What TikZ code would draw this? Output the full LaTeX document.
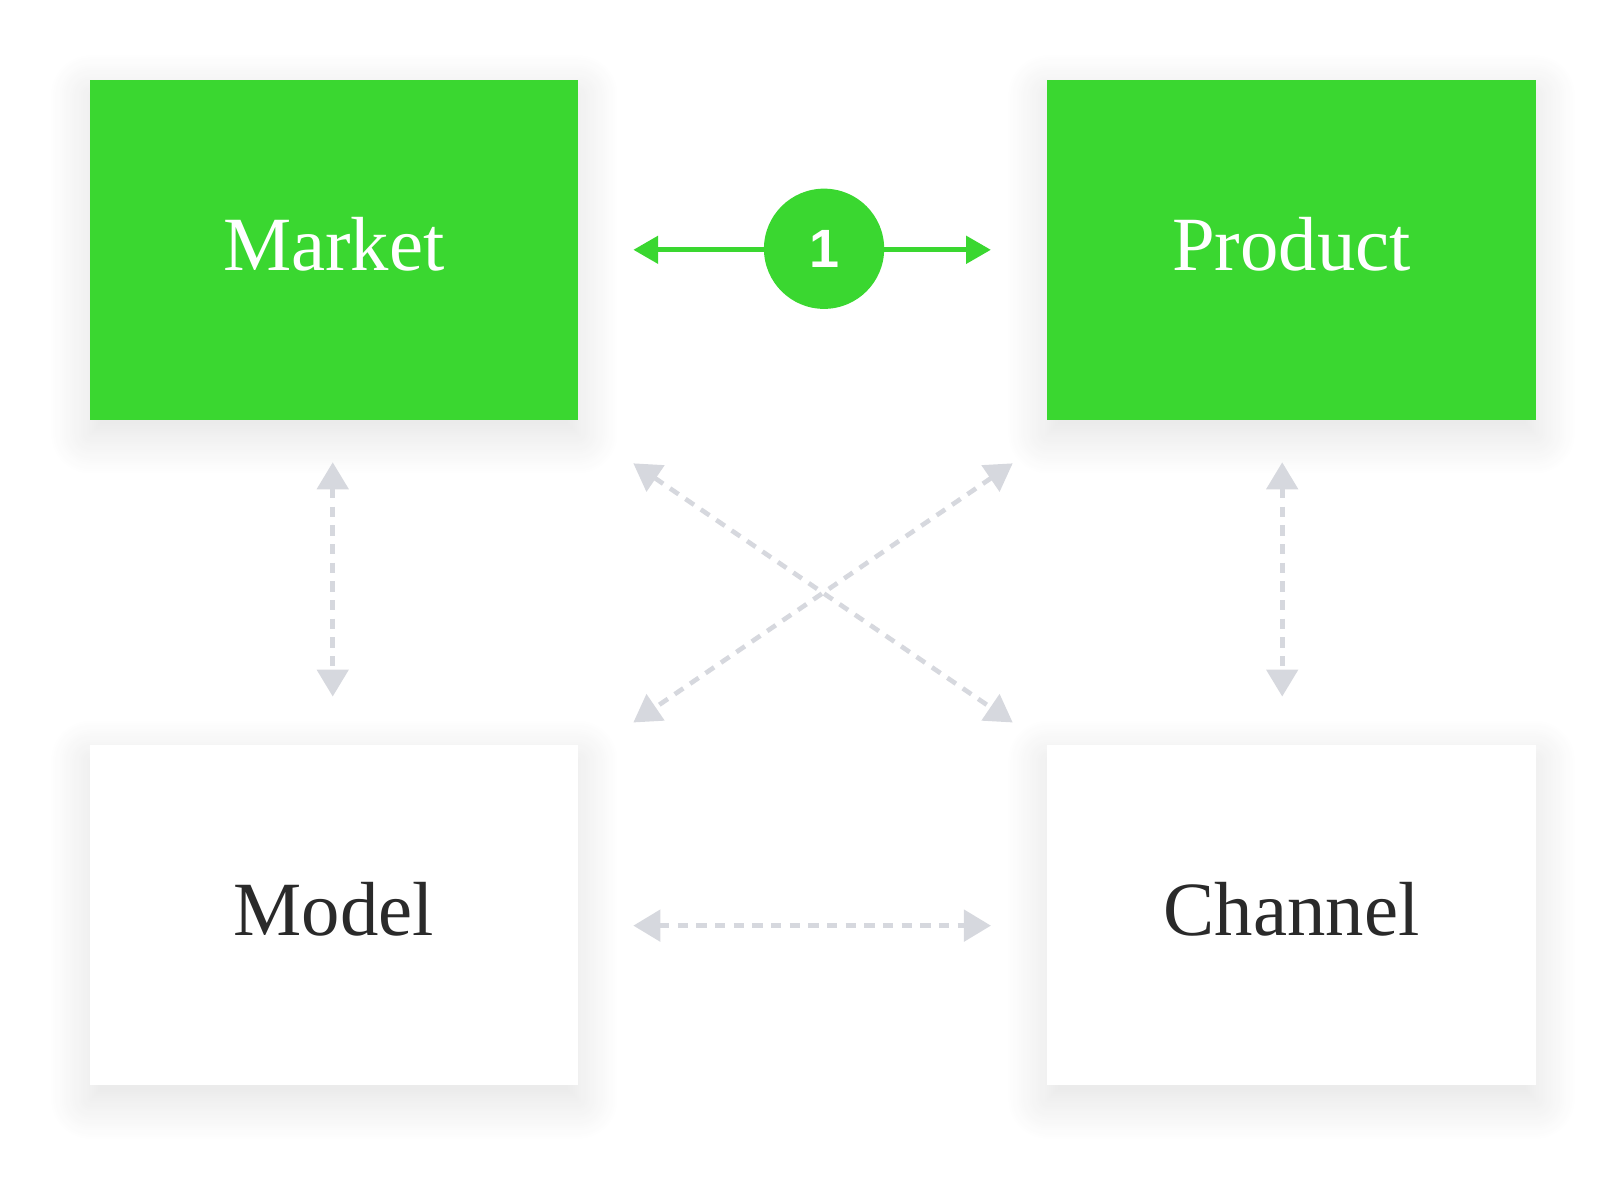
\documentclass[tikz,border=0pt]{standalone}
\usepackage{fontspec}
\setmainfont{Liberation Serif}
\newfontfamily\numfont{Liberation Sans}
\usetikzlibrary{arrows.meta,shadows.blur}
\definecolor{grn}{HTML}{3AD730}
\definecolor{gry}{HTML}{D6D8DE}
\definecolor{txt}{HTML}{2A2A2A}
\begin{document}
\begin{tikzpicture}[x=1pt,y=-1pt,
  box/.style={minimum width=471pt,minimum height=328pt,inner sep=0pt,
    blur shadow={shadow xshift=0pt,shadow yshift=-14pt,shadow blur radius=40pt,shadow opacity=12,shadow blur steps=20},
    font=\fontsize{74}{76}\selectfont},
  lbl/.style={font=\fontsize{74}{76}\selectfont},
  gbox/.style={box,fill=grn,text=white},
  wbox/.style={box,fill=white,text=txt},
  dot/.style={circle,fill=grn,minimum size=116pt,inner sep=0pt,text=white,font=\numfont\bfseries\fontsize{52}{52}\selectfont},
  garr/.style={grn,line width=5pt,{Triangle[width=26pt,length=24pt]}-{Triangle[width=26pt,length=24pt]}},
  darr/.style={gry,line width=4.5pt,dash pattern=on 10pt off 8pt,{Triangle[width=30pt,length=26pt]}-{Triangle[width=30pt,length=26pt]}}]
\useasboundingbox (0,0) rectangle (1560,1145);
\node[gbox] (market) at (322.5,241) {};
\node[gbox] (product) at (1246,241) {};
\node[wbox] (model) at (322.5,883) {};
\node[wbox] (channel) at (1246,883) {};
\node[lbl,text=white] at (322,236) {Market};
\node[lbl,text=white] at (1246,236) {Product};
\node[lbl,text=txt] at (322,877) {Model};
\node[lbl,text=txt] at (1246,877) {Channel};
\coordinate (a1) at (611,241); \coordinate (a2) at (956,241);
\draw[garr] (a1) -- (a2);
\node[dot] (one) at (795,240) {1};
\coordinate (v1a) at (321,446); \coordinate (v1b) at (321,672);
\coordinate (v2a) at (1237,446); \coordinate (v2b) at (1237,672);
\coordinate (d1a) at (611,447); \coordinate (d1b) at (977,697);
\coordinate (d2a) at (977,447); \coordinate (d2b) at (611,697);
\coordinate (h1) at (611,893); \coordinate (h2) at (956,893);
\draw[darr] (v1a) -- (v1b);
\draw[darr] (v2a) -- (v2b);
\draw[darr] (d1a) -- (d1b);
\draw[darr] (d2a) -- (d2b);
\draw[darr] (h1) -- (h2);
\end{tikzpicture}
\end{document}
